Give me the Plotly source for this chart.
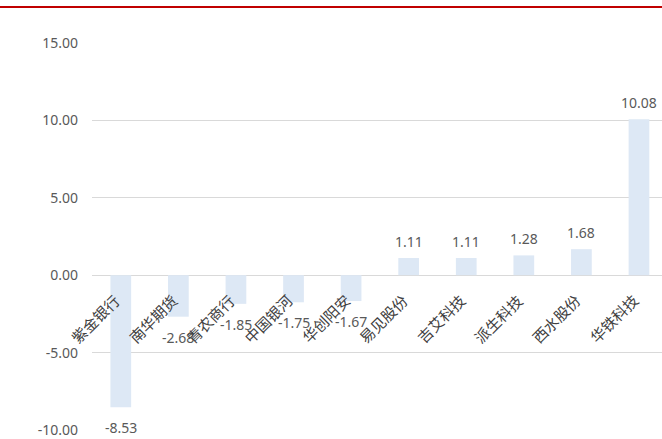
import plotly.graph_objects as go

categories = ["紫金银行", "南华期货", "青农商行", "中国银河", "华创阳安",
              "易见股份", "吉艾科技", "派生科技", "西水股份", "华铁科技"]
values = [-8.53, -2.68, -1.85, -1.75, -1.67, 1.11, 1.11, 1.28, 1.68, 10.08]
y_ticks = [-10, -5, 0, 5, 10, 15]

W, H = 662, 439
font_cjk = "Noto Sans CJK SC"
font_num = "Noto Sans"
gray = "#595959"

fig = go.Figure()
fig.add_trace(go.Bar(
    x=list(range(len(categories))), y=values,
    width=0.36,
    marker=dict(color="#DDE8F5", line=dict(width=0)),
))

for i, v in enumerate(values):
    pos = v >= 0
    fig.add_annotation(
        x=i, y=v, xref="x", yref="y", text=f"{v:.2f}", showarrow=False,
        xanchor="center", yanchor="bottom" if pos else "top",
        yshift=5 if pos else -9,
        font=dict(family=font_num, size=14, color=gray),
    )

for i, c in enumerate(categories):
    fig.add_annotation(
        x=i, y=0, xref="x", yref="y", text=c, showarrow=False,
        textangle=-45, xanchor="right", yanchor="top",
        xshift=6, yshift=-12,
        font=dict(family=font_cjk, size=15, color="#404040"),
    )

fig.add_shape(type="line", xref="paper", yref="paper", x0=-92/570, x1=1.0,
              y0=1 + 36/387, y1=1 + 36/387, line=dict(color="#C00000", width=2))

fig.update_layout(
    width=W, height=H,
    margin=dict(l=92, r=0, t=43, b=9),
    paper_bgcolor="white", plot_bgcolor="white",
    showlegend=False,
    xaxis=dict(range=[-0.5, 9.4], showticklabels=False, showgrid=False,
               zeroline=False, showline=False, ticks=""),
    yaxis=dict(range=[-10, 15], tickvals=y_ticks,
               ticktext=[f"{v:.2f}" for v in y_ticks],
               tickfont=dict(family=font_num, size=14, color=gray),
               showgrid=True, gridcolor="#D9D9D9", gridwidth=1,
               zeroline=True, zerolinecolor="#D9D9D9", zerolinewidth=1,
               showline=False, ticks="", ticklen=0, ticklabelstandoff=13),
)

fig.write_html("out.html")
